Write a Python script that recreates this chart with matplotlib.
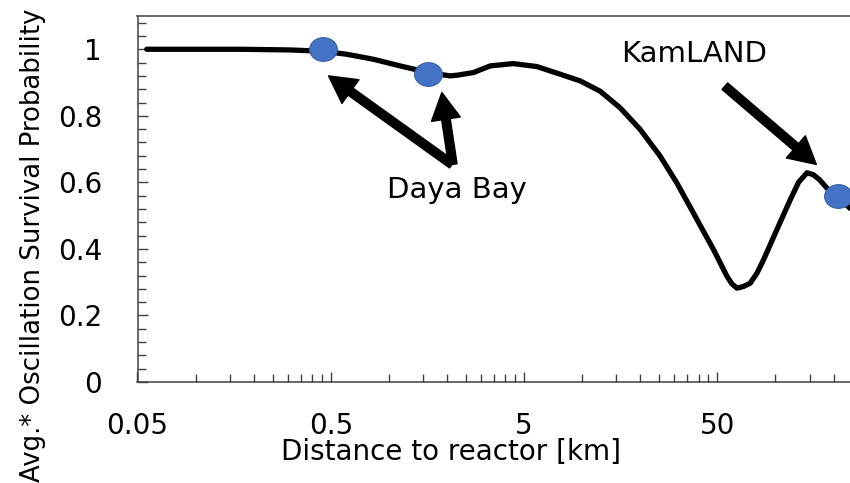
import numpy as np
import matplotlib.pyplot as plt
from matplotlib.path import Path
from matplotlib.ticker import FixedLocator, NullFormatter, FixedFormatter

# curva de supervivencia (distancia en km)
dist_km = [0.0558, 0.0935, 0.1696, 0.3077, 0.456, 0.605, 0.831, 1.142, 1.60, 2.07,
           2.25, 2.735, 3.34, 4.39, 5.83, 7.69, 9.76, 12.38, 15.72, 19.95,
           25.3, 30.9, 37.6, 47.8, 56.2, 59.5, 63.2, 68.3, 74.0, 80.2,
           86.7, 101.7, 119.3, 131.6, 145.5, 157, 169, 191, 210, 243]
survival = [1.0, 1.0, 1.0, 0.998, 0.994, 0.985, 0.970, 0.950, 0.930, 0.920,
            0.922, 0.930, 0.950, 0.957, 0.948, 0.925, 0.905, 0.874, 0.824, 0.759,
            0.679, 0.598, 0.508, 0.398, 0.317, 0.295, 0.282, 0.287, 0.297, 0.327,
            0.367, 0.458, 0.548, 0.600, 0.629, 0.623, 0.608, 0.573, 0.558, 0.522]

# experimentos
exp_dist = [0.456, 1.60, 210]
exp_prob = [1.0, 0.927, 0.558]

x_major = [0.05, 0.5, 5, 50, 500]
x_labels = ['0.05', '0.5', '5', '50', '500']
y_major = [0, 0.2, 0.4, 0.6, 0.8, 1.0]
y_labels = ['0', '0.2', '0.4', '0.6', '0.8', '1']

plt.rcParams['font.family'] = ['DejaVu Sans']

fig = plt.figure(figsize=(8.5, 4.83), dpi=100)
ax = fig.add_axes([137.5 / 850, 1 - 382 / 483, (850 - 137.5) / 850, 366 / 483])

ax.plot(dist_km, survival, color='black', lw=3.8, solid_joinstyle='round',
        solid_capstyle='round', zorder=2)

# marcador eliptico (el original esta estirado en horizontal)
circ = Path.unit_circle()
ellipse = Path(circ.vertices * [1.17, 1.0], circ.codes)
ax.plot(exp_dist, exp_prob, linestyle='none', marker=ellipse, markersize=20,
        markerfacecolor='#4472C4', markeredgecolor='#3A62A8', markeredgewidth=0.8,
        zorder=3, clip_on=False)

# flechas
arrow = dict(arrowstyle='simple,head_length=0.97,head_width=1.05,tail_width=0.31',
             mutation_scale=20, color='black', shrinkA=0, shrinkB=0,
             joinstyle='round')
ax.annotate('', xy=(0.487, 0.920), xytext=(2.12, 0.654), arrowprops=arrow)
ax.annotate('', xy=(1.878, 0.870), xytext=(2.14, 0.654), arrowprops=arrow)
ax.annotate('', xy=(162.7, 0.654), xytext=(54.7, 0.889), arrowprops=arrow)

ax.text(2.25, 0.554, 'Daya Bay', fontsize=21, ha='center', va='baseline')
ax.text(37.8, 0.961, 'KamLAND', fontsize=21, ha='center', va='baseline')

ax.set_xscale('log')
ax.set_xlim(0.05, 243)
ax.set_ylim(0, 1.1)

minors = [0.05 * 10 ** k * m for k in range(4) for m in range(2, 10)]
ax.xaxis.set_major_locator(FixedLocator(x_major))
ax.xaxis.set_major_formatter(FixedFormatter(x_labels))
ax.xaxis.set_minor_locator(FixedLocator(minors))
ax.xaxis.set_minor_formatter(NullFormatter())
ax.yaxis.set_major_locator(FixedLocator(y_major))
ax.yaxis.set_major_formatter(FixedFormatter(y_labels))
ax.yaxis.set_minor_locator(FixedLocator(np.arange(0, 1.11, 0.04)))

ax.tick_params(which='both', direction='in', color='#404040', width=1.0, labelsize=20)
ax.tick_params(which='major', length=7.5)
ax.tick_params(which='minor', length=5.5)
ax.tick_params(axis='y', pad=25.5)
ax.tick_params(axis='x', pad=21.5)

for side in ['left', 'bottom', 'top']:
    ax.spines[side].set_color('#404040')
    ax.spines[side].set_linewidth(1.1)
ax.spines['right'].set_visible(False)

fig.text(451 / 850, 1 - 460 / 483, 'Distance to reactor [km]', fontsize=20,
         ha='center', va='baseline')
fig.text(33 / 850, 1 - 245 / 483, 'Avg.* Oscillation Survival Probability',
         fontsize=18.7, rotation=90, ha='center', va='center')

plt.savefig('out.png', dpi=100)
